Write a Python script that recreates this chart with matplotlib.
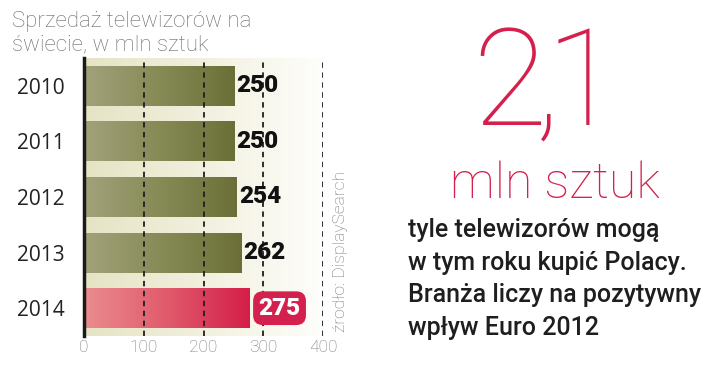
import matplotlib
matplotlib.use("Agg")
import matplotlib.pyplot as plt
import numpy as np
from matplotlib.colors import LinearSegmentedColormap

years = ["2010", "2011", "2012", "2013", "2014"]
values = [250, 250, 254, 262, 275]
xticks = [0, 100, 200, 300, 400]
title = "Sprzedaż telewizorów na\nświecie, w mln sztuk"
source = "źrodło: DisplaySearch"
big_number = ["2", ",", "1"]
big_unit = "mln sztuk"
body = "tyle telewizorów mogą\nw tym roku kupić Polacy.\nBranża liczy na pozytywny\nwpływ Euro 2012"

RED = "#d3204c"
fig = plt.figure(figsize=(7.2, 3.68), dpi=100)
fig.patch.set_facecolor("white")

W, H = 720, 368
def fx(px): return px / W
def fy(py): return 1 - py / H

ax = fig.add_axes([fx(84), fy(336), fx(323) - fx(84), fy(58) - fy(336)])

# background gradient
bg = LinearSegmentedColormap.from_list("bg", ["#e6e4c4", "#eeecd6", "#f7f6ea", "#ffffff"])
grad = np.linspace(0, 1, 256).reshape(1, -1)
ax.imshow(grad, extent=[0, 420, len(years) - 0.5, -0.5], aspect="auto", cmap=bg, zorder=0)
ax.set_xlim(0, 400)
ax.set_ylim(len(years) - 0.5, -0.5)

olive = LinearSegmentedColormap.from_list("ol", ["#a2a27b", "#868a55", "#6b6f37"])
redc = LinearSegmentedColormap.from_list("rd", ["#ea8c8f", "#e05a6c", "#d41e48"])

bars = ax.barh(range(len(years)), values, height=0.72, left=2, color="none", zorder=2)
for i, (b, v) in enumerate(zip(bars, values)):
    cmap = redc if i == len(years) - 1 else olive
    im = ax.imshow(grad, extent=[2, 2 + v, i + 0.36, i - 0.36], aspect="auto",
                   cmap=cmap, zorder=2)
    im.set_clip_path(b)

for x in xticks[1:]:
    ax.axvline(x, color="#1e1e1e", lw=1.3, ls=(0, (3, 2.5)), zorder=3)

for sp in ["top", "right", "bottom"]:
    ax.spines[sp].set_visible(False)
ax.spines["left"].set_linewidth(2.5)
ax.spines["left"].set_color("#1a1a1a")
ax.spines["left"].set_zorder(5)

ax.set_yticks(range(len(years)))
ax.set_yticklabels(years, fontsize=15, family=["Open Sans", "DejaVu Sans"], color="#222222")
ax.tick_params(axis="y", length=0, pad=14)
ax.set_xticks(xticks)
ax.set_xticklabels([str(t) for t in xticks], fontsize=12.5, family=["Roboto", "DejaVu Sans"],
                   fontweight="light", color="#777777")
ax.tick_params(axis="x", length=0, pad=3)

for i, v in enumerate(values):
    if i == len(years) - 1:
        ax.text(v + 17, i, str(v), va="center", ha="left", fontsize=17.5, fontweight="heavy",
                family=["Roboto", "DejaVu Sans"], color="white", zorder=6,
                bbox=dict(boxstyle="round,pad=0.22,rounding_size=0.4", fc=RED, ec="none"))
    else:
        ax.text(v + 5, i, str(v), va="center", ha="left", fontsize=17.5, fontweight="heavy",
                family=["Roboto", "DejaVu Sans"], color="#111111", zorder=6)

# multi-line texts: baseline alignment refers to the last line
fig.text(fx(12), fy(50), title, ha="left", va="baseline", fontsize=16, fontweight="light",
         family=["Roboto", "DejaVu Sans"], color="#6a6a6a", linespacing=1.1)

fig.text(fx(341), fy(251), source, rotation=90, ha="center", va="center", fontsize=12.5,
         fontweight="light", family=["Roboto", "DejaVu Sans"], color="#777777")

# big number "2,1" drawn glyph by glyph for tight spacing
for ch, cx in zip(big_number, [510, 548, 583]):
    fig.text(fx(cx), fy(125), ch, ha="center", va="baseline", fontsize=98,
             fontweight="light", family=["Roboto", "DejaVu Sans"], color=RED)
fig.text(fx(555), fy(198), big_unit, ha="center", va="baseline", fontsize=36,
         fontweight="light", family=["Roboto", "DejaVu Sans"], color=RED)
fig.text(fx(408), fy(335), body, ha="left", va="baseline", fontsize=18, fontweight="medium",
         family=["Roboto", "DejaVu Sans"], color="#1e1e1e", linespacing=1.45)

fig.savefig("out.png", dpi=100, facecolor="white")
